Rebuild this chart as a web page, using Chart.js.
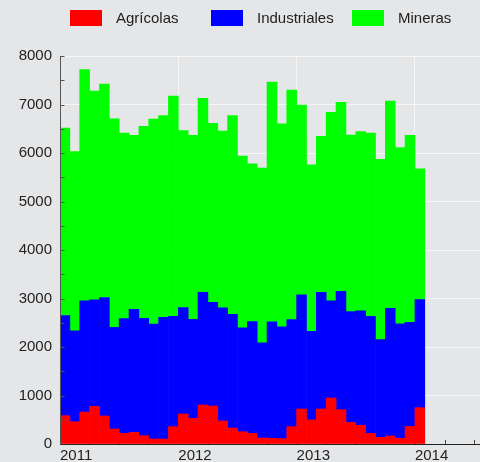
<!DOCTYPE html>
<html lang="es">
<head>
    <meta charset="UTF-8">
    <meta name="viewport" content="width=device-width, initial-scale=1.0">
    <title>Exportaciones mensuales</title>
    <script src="https://cdn.jsdelivr.net/npm/chart.js"></script>
    <style>
        body {
            margin: 0;
            padding: 0;
            background: #e5e6e8;
        }
        #wrap {
            position: relative;
            width: 480px;
            height: 462px;
        }
    </style>
</head>
<body>
    <div id="wrap"><canvas id="chart"></canvas></div>

    <script>
        // meses, de enero 2011 a enero 2014
        const months = [
            '2011-01', '2011-02', '2011-03', '2011-04', '2011-05', '2011-06',
            '2011-07', '2011-08', '2011-09', '2011-10', '2011-11', '2011-12',
            '2012-01', '2012-02', '2012-03', '2012-04', '2012-05', '2012-06',
            '2012-07', '2012-08', '2012-09', '2012-10', '2012-11', '2012-12',
            '2013-01', '2013-02', '2013-03', '2013-04', '2013-05', '2013-06',
            '2013-07', '2013-08', '2013-09', '2013-10', '2013-11', '2013-12',
            '2014-01'
        ];
        const yearLabels = ['2011', '2012', '2013', '2014'];

        const agricolas = [
            584, 460, 660, 776, 578, 310, 219, 240, 171, 103, 103, 357,
            619, 529, 805, 784, 475, 330, 254, 219, 124, 117, 110, 357,
            722, 498, 722, 949, 708, 446, 384, 219, 137, 165, 117, 363,
            749
        ];
        const industriales = [
            2064, 1872, 2291, 2196, 2442, 2097, 2367, 2538, 2422, 2370, 2510, 2277,
            2194, 2043, 2324, 2139, 2332, 2345, 2140, 2305, 1961, 2401, 2305, 2209,
            2353, 1827, 2404, 2002, 2442, 2285, 2361, 2415, 2016, 2634, 2360, 2147,
            2229
        ];
        const mineras = [
            3867, 3695, 4767, 4306, 4403, 4300, 3826, 3585, 3956, 4227, 4157, 4541,
            3647, 3791, 3998, 3688, 3645, 4095, 3542, 3255, 3604, 4945, 4184, 4732,
            3915, 3433, 3217, 3887, 3895, 3639, 3695, 3777, 3716, 4273, 3633, 3853,
            2698
        ];

        const seriesNames = ['Agrícolas', 'Industriales', 'Mineras'];
        const seriesColors = ['#ff0000', '#0000ff', '#00ff00'];

        const fontFamily = "'Liberation Sans', Arial, sans-serif";
        Chart.defaults.font.family = fontFamily;
        Chart.defaults.font.size = 15;
        Chart.defaults.color = '#222';

        // cada barra ocupa su mes completo
        const toPoints = arr => arr.map((v, i) => ({ x: i + 0.5, y: v }));

        // leyenda en columnas fijas arriba
        const fixedLegend = {
            id: 'fixedLegend',
            afterDraw(chart) {
                const ctx = chart.ctx;
                ctx.save();
                ctx.font = '15px ' + fontFamily;
                ctx.textBaseline = 'middle';
                chart.data.datasets.forEach((ds, i) => {
                    const x = 70 + i * 141;
                    ctx.fillStyle = ds.backgroundColor;
                    ctx.fillRect(x, 10, 32, 16);
                    ctx.fillStyle = '#222';
                    ctx.fillText(ds.label, x + 46, 18.5);
                });
                ctx.restore();
            }
        };

        // ejes y marcas cortas hacia dentro
        const axisMarks = {
            id: 'axisMarks',
            beforeDatasetsDraw(chart) {
                const { ctx, chartArea, scales: { x } } = chart;
                ctx.save();
                ctx.strokeStyle = '#444';
                ctx.lineWidth = 1;
                x.ticks.forEach(t => {
                    const px = Math.round(x.getPixelForValue(t.value)) + 0.5;
                    ctx.beginPath();
                    ctx.moveTo(px, chartArea.bottom);
                    ctx.lineTo(px, chartArea.bottom - 4);
                    ctx.stroke();
                });
                ctx.restore();
            },
            afterDatasetsDraw(chart) {
                const { ctx, chartArea, scales: { y } } = chart;
                const left = Math.round(chartArea.left) + 0.5;
                const bottom = Math.round(chartArea.bottom) + 0.5;
                ctx.save();
                ctx.strokeStyle = '#555';
                ctx.lineWidth = 1;
                y.ticks.forEach(t => {
                    const py = Math.round(y.getPixelForValue(t.value)) + 0.5;
                    ctx.beginPath();
                    ctx.moveTo(left, py);
                    ctx.lineTo(left + 4, py);
                    ctx.stroke();
                });
                ctx.beginPath();
                ctx.moveTo(left, chartArea.top);
                ctx.lineTo(left, bottom);
                ctx.stroke();
                ctx.strokeStyle = '#222';
                ctx.beginPath();
                ctx.moveTo(left, bottom);
                ctx.lineTo(chartArea.right, bottom);
                ctx.stroke();
                ctx.restore();
            }
        };

        const ctx = document.getElementById('chart').getContext('2d');
        new Chart(ctx, {
            type: 'bar',
            data: {
                labels: months,
                datasets: [
                    { label: seriesNames[0], data: toPoints(agricolas), backgroundColor: seriesColors[0] },
                    { label: seriesNames[1], data: toPoints(industriales), backgroundColor: seriesColors[1] },
                    { label: seriesNames[2], data: toPoints(mineras), backgroundColor: seriesColors[2] }
                ]
            },
            options: {
                responsive: true,
                maintainAspectRatio: false,
                animation: false,
                layout: { padding: { top: 56, right: 0, left: 0, bottom: 0 } },
                datasets: {
                    bar: { barPercentage: 1, categoryPercentage: 1, borderWidth: 0 }
                },
                plugins: {
                    legend: { display: false },
                    tooltip: { enabled: false }
                },
                scales: {
                    x: {
                        type: 'linear',
                        stacked: true,
                        offset: false,
                        min: 0,
                        max: 42.6,
                        afterBuildTicks(scale) {
                            const ticks = [];
                            for (let v = 0; v <= 42; v += 3) ticks.push({ value: v });
                            scale.ticks = ticks;
                        },
                        afterFit(scale) { scale.height = 18; },
                        border: { display: false },
                        grid: {
                            offset: false,
                            drawTicks: false,
                            color: c => (c.tick && c.tick.value % 12 === 0) ? '#f6f6f7' : 'rgba(0,0,0,0)'
                        },
                        ticks: {
                            align: 'start',
                            autoSkip: false,
                            maxRotation: 0,
                            padding: 3,
                            color: '#222',
                            callback: v => (v % 12 === 0 && yearLabels[v / 12]) ? yearLabels[v / 12] : ''
                        }
                    },
                    y: {
                        stacked: true,
                        min: 0,
                        max: 8000,
                        afterFit(scale) { scale.width = 60; },
                        border: { display: false },
                        grid: {
                            drawTicks: false,
                            color: c => (c.tick && c.tick.value % 1000 === 0) ? '#f6f6f7' : 'rgba(0,0,0,0)'
                        },
                        ticks: {
                            stepSize: 500,
                            padding: 8,
                            color: '#222',
                            callback: v => v % 1000 === 0 ? String(v) : ''
                        }
                    }
                }
            },
            plugins: [fixedLegend, axisMarks]
        });
    </script>
</body>
</html>
